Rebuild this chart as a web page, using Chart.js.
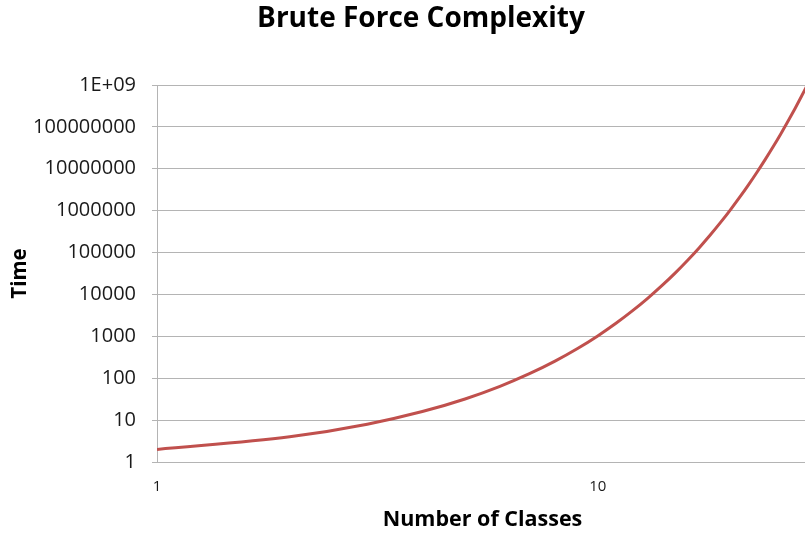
<!DOCTYPE html>
<html>
<head>
<meta charset="utf-8">
<script src="https://cdn.jsdelivr.net/npm/chart.js@4.4.1/dist/chart.umd.min.js"></script>
<style>
  html, body { margin: 0; padding: 0; background: #fff; overflow: hidden; }
  #wrap { width: 842px; height: 536px; }
</style>
</head>
<body>
<div id="wrap"><canvas id="chart" width="842" height="536"></canvas></div>
<script>
// Number of classes vs. brute force time (log-log)
const classes = [1, 2, 3, 4, 5, 6, 7, 8, 9, 10, 11, 12, 13, 14, 15, 16, 17, 18, 19, 20,
  21, 22, 23, 24, 25, 26, 27, 28, 29, 30];
const times = [2, 4, 8, 16, 32, 64, 128, 256, 512, 1024, 2048, 4096, 8192, 16384, 32768,
  65536, 131072, 262144, 524288, 1048576, 2097152, 4194304, 8388608, 16777216, 33554432,
  67108864, 134217728, 268435456, 536870912, 1073741824];

const yTicks = [1, 10, 100, 1000, 10000, 100000, 1000000, 10000000, 100000000, 1000000000];
const yTickLabels = ['1', '10', '100', '1000', '10000', '100000', '1000000', '10000000', '100000000', '1E+09'];
const xTicks = [1, 10];
const xTickLabels = ['1', '10'];

const chartTitle = 'Brute Force Complexity';
const gridColor = '#b4b4b4';
const textColor = '#1a1a1a';
const fontFamily = "'Open Sans', sans-serif";

// title is centred on the whole canvas, not on the plot
const titlePlugin = {
  id: 'canvasTitle',
  afterDraw(chart) {
    const ctx = chart.ctx;
    ctx.save();
    ctx.font = `bold 28px ${fontFamily}`;
    ctx.fillStyle = '#000';
    ctx.textAlign = 'center';
    ctx.textBaseline = 'middle';
    ctx.fillText(chartTitle, chart.width / 2, 19);
    ctx.restore();
  },
};

new Chart(document.getElementById('chart'), {
  type: 'line',
  data: {
    datasets: [{
      data: classes.map((c, i) => ({ x: c, y: times[i] })),
      borderColor: '#c0504d',
      borderWidth: 3,
      pointRadius: 0,
      cubicInterpolationMode: 'monotone',
      fill: false,
    }],
  },
  plugins: [titlePlugin],
  options: {
    responsive: false,
    animation: false,
    layout: { padding: { top: 85, right: 34, left: 0, bottom: 0 } },
    plugins: {
      legend: { display: false },
      tooltip: { enabled: false },
      title: { display: false },
    },
    scales: {
      x: {
        type: 'logarithmic',
        min: 1,
        max: 30,
        afterBuildTicks: s => { s.ticks = xTicks.map(v => ({ value: v })); },
        afterFit: s => { s.height = 74; },
        grid: { display: false, drawTicks: false },
        border: { display: true, color: gridColor, width: 1 },
        ticks: {
          padding: 16,
          color: textColor,
          autoSkip: false,
          maxRotation: 0,
          font: { family: fontFamily, size: 15 },
          callback: (v) => xTickLabels[xTicks.indexOf(v)] ?? '',
        },
        title: {
          display: true,
          text: 'Number of Classes',
          color: '#000',
          font: { family: fontFamily, size: 21.5, weight: 'bold', lineHeight: 1.2 },
          padding: { top: 0, bottom: 3 },
        },
      },
      y: {
        type: 'logarithmic',
        min: 1,
        max: 1000000000,
        afterBuildTicks: s => { s.ticks = yTicks.map(v => ({ value: v })); },
        afterFit: s => { s.width = 157; },
        grid: { color: gridColor, lineWidth: 1, tickLength: 5 },
        border: { display: true, color: gridColor, width: 1 },
        ticks: {
          padding: 16,
          color: textColor,
          autoSkip: false,
          font: { family: fontFamily, size: 20 },
          callback: (v) => yTickLabels[yTicks.indexOf(v)] ?? '',
        },
        title: {
          display: true,
          text: 'Time',
          color: '#000',
          font: { family: fontFamily, size: 20.5, weight: 'bold', lineHeight: 1.2 },
          padding: { top: 8, bottom: 0 },
        },
      },
    },
  },
});
</script>
</body>
</html>
